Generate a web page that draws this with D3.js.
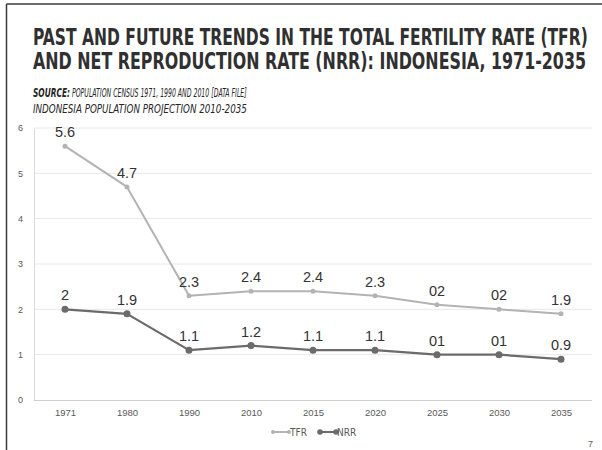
<!DOCTYPE html>
<html>
<head>
<meta charset="utf-8">
<script src="https://cdn.jsdelivr.net/npm/d3@7/dist/d3.min.js"></script>
<style>
  html, body { margin: 0; padding: 0; background: #fff; }
  svg { display: block; }
</style>
</head>
<body>
<svg id="chart" width="602" height="450"></svg>
<script>
// Census years and projection years
const years = ["1971", "1980", "1990", "2010", "2015", "2020", "2025", "2030", "2035"];
// Total fertility rate
const tfrValues = [5.6, 4.7, 2.3, 2.4, 2.4, 2.3, 2.1, 2.0, 1.9];
const tfrLabels = ["5.6", "4.7", "2.3", "2.4", "2.4", "2.3", "02", "02", "1.9"];
// Net reproduction rate
const nrrValues = [2.0, 1.9, 1.1, 1.2, 1.1, 1.1, 1.0, 1.0, 0.9];
const nrrLabels = ["2", "1.9", "1.1", "1.2", "1.1", "1.1", "01", "01", "0.9"];
const yTicks = [0, 1, 2, 3, 4, 5, 6];

const titleLines = [
  "PAST AND FUTURE TRENDS IN THE TOTAL FERTILITY RATE (TFR)",
  "AND NET REPRODUCTION RATE (NRR): INDONESIA, 1971-2035"
];
const sourceLines = [
  ["SOURCE:", "POPULATION CENSUS 1971, 1990 AND 2010 [DATA FILE]"],
  [null, "INDONESIA POPULATION PROJECTION 2010-2035"]
];

const svg = d3.select("#chart");
const W = 602, H = 450;

// Slide frame
svg.append("line").attr("x1", 6.5).attr("x2", W).attr("y1", 4).attr("y2", 4)
  .attr("stroke", "#3a3a3a").attr("stroke-width", 1.5);
svg.append("line").attr("x1", 6.5).attr("x2", 6.5).attr("y1", 4).attr("y2", H)
  .attr("stroke", "#3a3a3a").attr("stroke-width", 1.5);

// Text fitted to a given width by a horizontal scale
function fitText(parent, str, x0, y0, width, attrs) {
  const t = parent.append("text").attr("x", 0).attr("y", 0);
  Object.entries(attrs).forEach(([k, v]) => t.attr(k, v));
  t.text(str);
  const w = t.node().getComputedTextLength();
  t.attr("transform", `translate(${x0},${y0}) scale(${width / w},1)`);
  return t;
}

// Title
const titleFont = "'Liberation Sans Narrow', 'DejaVu Sans Condensed', 'Roboto', sans-serif";
const titleBase = [45, 69];
const titleWidths = [555, 553];
titleLines.forEach((t, i) => {
  fitText(svg, t, 33, titleBase[i], titleWidths[i], {
    "font-family": titleFont, "font-weight": "bold", "font-size": 23, "fill": "#303030"
  });
});

// Source note
const srcAttrs = { "font-family": titleFont, "font-style": "italic", "font-size": 12.5, "fill": "#262626" };
fitText(svg, sourceLines[0][0], 33, 97, 37, Object.assign({}, srcAttrs, { "font-weight": "bold" }));
fitText(svg, sourceLines[0][1], 72, 97, 175, srcAttrs);
fitText(svg, sourceLines[1][1], 33, 113, 214, srcAttrs);

// Plot area
const plot = { left: 34, right: 592, top: 128, bottom: 400 };
const x = d3.scalePoint().domain(years).range([plot.left, plot.right]).padding(0.5);
const y = d3.scaleLinear().domain([0, 6]).range([plot.bottom, plot.top]);
const axisFont = "'Liberation Sans', Arial, sans-serif";

// Gridlines
svg.append("g").selectAll("line").data(yTicks.filter(d => d > 0)).join("line")
  .attr("x1", plot.left).attr("x2", plot.right)
  .attr("y1", d => y(d)).attr("y2", d => y(d))
  .attr("stroke", "#e8e8e8").attr("stroke-width", 1);

// Y axis
const yAxis = svg.append("g").attr("transform", `translate(${plot.left},0)`)
  .call(d3.axisLeft(y).tickValues(yTicks).tickSize(0).tickPadding(11).tickFormat(d3.format("d")));
yAxis.select(".domain").attr("stroke", "#d9d9d9");
yAxis.selectAll("text").attr("font-family", axisFont).attr("font-size", 9).attr("fill", "#595959");

// X axis
const xAxis = svg.append("g").attr("transform", `translate(0,${plot.bottom})`)
  .call(d3.axisBottom(x).tickSize(0).tickPadding(9));
xAxis.select(".domain").attr("stroke", "#d0d0d0").attr("d", `M${plot.left},0.5H${plot.right}`);
xAxis.selectAll("text").attr("font-family", axisFont).attr("font-size", 9.5).attr("fill", "#595959");

// Series
const series = [
  { name: "TFR", values: tfrValues, labels: tfrLabels, color: "#b3b3b3", r: 2.5, width: 2 },
  { name: "NRR", values: nrrValues, labels: nrrLabels, color: "#6b6b6b", r: 3.5, width: 2.25 }
];
const line = d3.line().x((d, i) => x(years[i])).y(d => y(d));

series.forEach(s => {
  const g = svg.append("g");
  g.append("path").datum(s.values).attr("d", line)
    .attr("fill", "none").attr("stroke", s.color).attr("stroke-width", s.width)
    .attr("stroke-linejoin", "round");
  g.selectAll("circle").data(s.values).join("circle")
    .attr("cx", (d, i) => x(years[i])).attr("cy", d => y(d))
    .attr("r", s.r).attr("fill", s.color);
  g.selectAll("text").data(s.values).join("text")
    .attr("x", (d, i) => x(years[i])).attr("y", d => y(d) - 9)
    .attr("text-anchor", "middle")
    .attr("font-family", axisFont).attr("font-size", 14.5).attr("fill", "#333")
    .text((d, i) => s.labels[i]);
});

// Legend
const legend = svg.append("g").attr("transform", "translate(272,432)");
let lx = 0;
series.forEach(s => {
  const item = legend.append("g").attr("transform", `translate(${lx},0)`);
  item.append("line").attr("x1", 0).attr("x2", 18).attr("y1", 0).attr("y2", 0)
    .attr("stroke", s.color).attr("stroke-width", 2);
  item.append("circle").attr("cx", 1).attr("cy", 0).attr("r", s.r * 0.8).attr("fill", s.color);
  item.append("circle").attr("cx", 17).attr("cy", 0).attr("r", s.r * 0.8).attr("fill", s.color);
  item.append("text").attr("x", 18).attr("y", 3.5)
    .attr("font-family", titleFont).attr("font-size", 10).attr("fill", "#595959")
    .text(s.name);
  lx += 47;
});

// Page number
svg.append("text").attr("x", 593).attr("y", 447).attr("text-anchor", "end")
  .attr("font-family", axisFont).attr("font-size", 9).attr("fill", "#595959").text("7");
</script>
</body>
</html>
